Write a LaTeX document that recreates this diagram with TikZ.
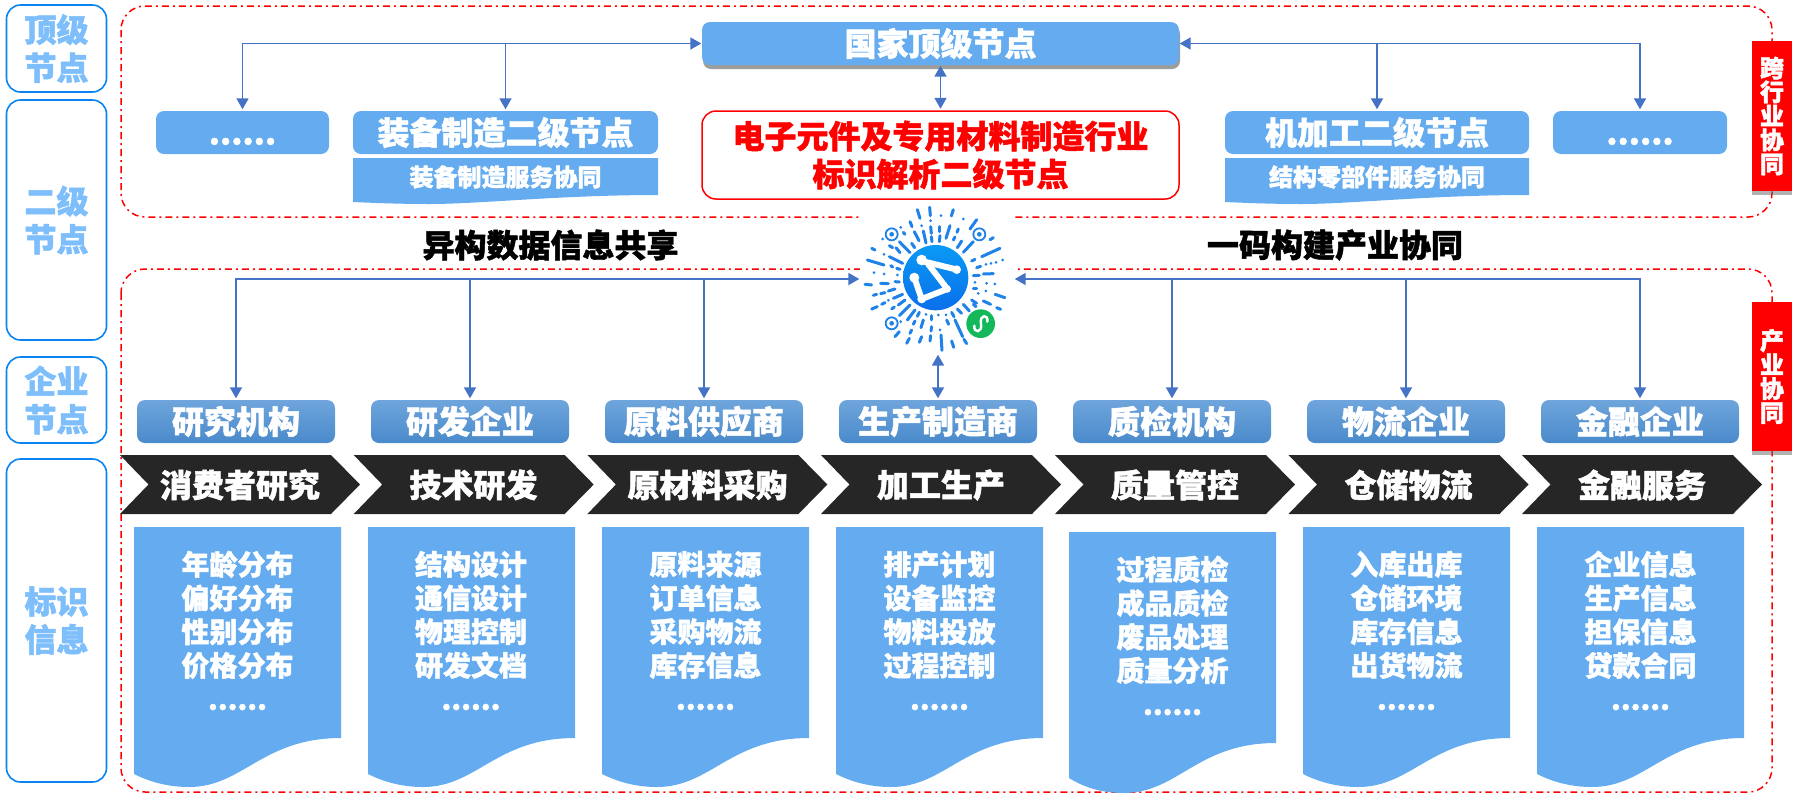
\documentclass[tikz,border=0pt]{standalone}
\usepackage{fontspec}
\setmainfont{Noto Sans CJK SC}[BoldFeatures={FakeBold=1.5}]
\usetikzlibrary{arrows.meta,shadows}
\definecolor{nodeblue}{HTML}{64ACEF}
\definecolor{lvlline}{HTML}{0A84F2}
\definecolor{lvltext}{HTML}{7DBEFB}
\definecolor{linkblue}{HTML}{4472C4}
\definecolor{qrblue}{HTML}{1E82E8}
\definecolor{qrtop}{HTML}{0A9AF5}
\definecolor{qrdown}{HTML}{0A6FEA}
\definecolor{qrgreen}{HTML}{12B85A}
\definecolor{compup}{HTML}{6FA5DC}
\definecolor{compdown}{HTML}{4A8ACB}
\definecolor{chevdark}{HTML}{262626}
\tikzset{
  txta/.style={font=\fontsize{32}{38}\selectfont\bfseries, align=center, inner sep=0pt},
  txtb/.style={font=\fontsize{24}{24}\selectfont\bfseries, align=center, inner sep=0pt},
  txtc/.style={font=\fontsize{28}{33.7}\selectfont\bfseries, align=center, inner sep=0pt, text=white},
  lvlbox/.style={txta, draw=lvlline, line width=1.6pt, rounded corners=14pt, text=lvltext, minimum width=100pt},
  bluebox/.style={txta, fill=nodeblue, text=white, rounded corners=8pt, minimum height=43pt},
  compbox/.style={txta, top color=compup, bottom color=compdown, text=white, rounded corners=8pt, minimum width=198pt, minimum height=43pt},
  tagbox/.style={txtb, fill=red, text=white, minimum width=40pt, drop shadow={shadow xshift=0pt, shadow yshift=-4pt, fill=black!60, opacity=.5}},
  regionline/.style={draw=red, line width=1.5pt, rounded corners=24pt, dash pattern=on 7pt off 4pt on 2pt off 4pt},
  oneway/.style={draw=linkblue, line width=1.8pt, -{Triangle[length=11pt,width=12pt]}, shorten >=1.5pt},
  twoway/.style={draw=linkblue, line width=1.8pt, {Triangle[length=11pt,width=12pt]}-{Triangle[length=11pt,width=12pt]}, shorten >=1.5pt, shorten <=0.5pt},
  ray/.style={draw=qrblue, line width=3pt, line cap=round},
}
\begin{document}
\begin{tikzpicture}[x=1pt, y=-1pt]
  \useasboundingbox (0,0) rectangle (1800,804);

  % left column
  \node[lvlbox, minimum height=87pt] (lvltop) at (56.5,48.5) {顶级\\节点};
  \node[lvlbox, minimum height=240pt] (lvlsec) at (56.5,220) {二级\\节点};
  \node[lvlbox, minimum height=86pt] (lvlent) at (56.5,400) {企业\\节点};
  \node[lvlbox, minimum height=323pt] (lvlinf) at (56.5,620.5) {标识\\信息};

  % dash-dot regions
  \draw[regionline] (121,6) rectangle (1772,217);
  \draw[regionline] (121,269) rectangle (1772,792);

  % top part
  \node[bluebox, minimum width=477pt, drop shadow={shadow xshift=1pt, shadow yshift=-4pt, fill=black!70, opacity=.55}] (guojia) at (940.5,43.5) {国家顶级节点};
  \node[txta, draw=red, line width=1.5pt, rounded corners=14pt, text=red, minimum width=477pt, minimum height=88pt] (hangye) at (940.5,155) {电子元件及专用材料制造行业\\标识解析二级节点};
  \node[bluebox, minimum width=173pt] (dotsl) at (242.5,132.5) {\smash{\raisebox{-12pt}{......}}};
  \node[bluebox, minimum width=305pt] (zbzz) at (505.5,132.5) {装备制造二级节点};
  \node[bluebox, minimum width=304pt] (jjg) at (1377,132.5) {机加工二级节点};
  \node[bluebox, minimum width=174pt] (dotsr) at (1640,132.5) {\smash{\raisebox{-12pt}{......}}};

  \fill[nodeblue] (353,158) -- (658,158) -- (658,195) .. controls (560,195) and (480,204) .. (430,204) .. controls (400,204) and (375,203) .. (353,202) -- cycle;
  \fill[nodeblue] (1225,158) -- (1529,158) -- (1529,195) .. controls (1431,195) and (1352,204) .. (1302,204) .. controls (1272,204) and (1247,203) .. (1225,202) -- cycle;
  \node[txtb, text=white] (zbfw) at (505.5,177) {装备制造服务协同};
  \node[txtb, text=white] (jgfw) at (1377,177) {结构零部件服务协同};

  \node[tagbox, minimum height=150pt] (tagkh) at (1772,116) {跨\\行\\业\\协\\同};
  \node[tagbox, minimum height=149pt] (tagcy) at (1772,376.5) {产\\业\\协\\同};

  \node[txta] (txtyg) at (550.5,245) {异构数据信息共享};
  \node[txta] (txtym) at (1335,245) {一码构建产业协同};

  % code picture
  \node[fill=white, minimum width=154pt, minimum height=150pt, inner sep=0pt] (qr) at (937,279) {};
  \begin{scope}[shift={(860,205)}, x=0.3333pt, y=-0.3333pt]
    \foreach \xa/\ya/\xb/\yb in {172/14/180/40, 209/7/211/32, 280/14/274/33, 150/50/156/65, 212/65/214/85, 239/65/239/80,
      350/44/330/72, 295/72/291/82, 270/62/258/100, 240/92/238/110, 214/95/216/110, 190/78/198/114, 163/80/177/107,
      130/82/135/88, 118/110/150/143, 155/115/164/128, 285/96/280/105, 340/110/310/142, 305/108/292/128,
      88/122/98/128, 35/130/45/135, 108/128/120/143, 88/155/128/175, 22/165/72/180, 92/182/98/186, 110/190/120/193,
      15/238/35/240, 62/235/85/236, 105/230/118/231, 40/271/50/268, 62/266/75/263, 85/258/105/252, 35/312/52/305,
      65/298/75/293, 100/280/128/268, 95/312/103/306, 115/300/135/285,
      400/98/390/104, 420/130/365/155, 345/163/335/168, 350/188/362/184, 340/212/358/211, 370/207/400/206,
      340/252/350/252, 405/268/435/278, 335/285/350/295, 370/288/392/298, 410/308/422/313, 340/298/348/305,
      150/300/118/332, 165/315/142/345, 178/322/172/334, 215/332/215/345, 275/322/282/335, 292/312/305/325,
      310/298/328/318, 165/348/160/358, 190/345/183/368, 215/365/213/378, 260/345/266/358, 285/345/308/395,
      155/375/150/385, 105/395/118/380, 140/415/148/400, 178/412/185/395, 210/408/212/392, 243/390/246/436,
      275/408/281/427, 312/403/320/416}
      \draw[ray] (\xa,\ya) -- (\xb,\yb);
    \foreach \xa/\ya in {243/32, 212/47, 185/62, 310/42, 122/67, 68/102, 72/148, 42/203, 72/207, 112/210, 85/286,
      378/178, 393/175, 408/172, 428/165, 345/232, 380/235, 405/237, 355/265, 378/258,
      198/328, 235/330, 258/330, 122/350, 240/375}
      \fill[qrblue] (\xa,\ya) circle (4.5);
    \foreach \xa/\ya in {95/88, 358/88, 95/355} {
      \draw[qrblue, line width=1.8pt] (\xa,\ya) circle (18);
      \fill[qrblue] (\xa,\ya) circle (7);
    }
    \shade[top color=qrtop, bottom color=qrdown] (227,218) circle (98);
    \draw[white, line width=6pt, line cap=round, line join=round] (185,168) -- (288,193);
    \draw[white, line width=6pt, line cap=round, line join=round] (205,178) -- (262,252) -- (185,282) -- (163,218);
    \fill[white] (185,165) circle (16);
    \fill[white] (290,194) circle (13);
    \fill[white] (163,218) circle (15);
    \fill[white] (185,282) circle (13);
    \fill[white] (262,252) circle (11);
    \fill[qrgreen] (362,356) circle (43);
    \draw[white, line width=2.4pt, line cap=round] (343,362) .. controls (340,385) and (368,385) .. (363,356) .. controls (358,327) and (386,327) .. (382,350);
  \end{scope}

  % company row
  \node[compbox] (yjjg) at (236,421.5) {研究机构};
  \node[compbox] (yfqy) at (470,421.5) {研发企业};
  \node[compbox] (ylgy) at (704,421.5) {原料供应商};
  \node[compbox] (sczz) at (938,421.5) {生产制造商};
  \node[compbox] (zjjg) at (1172,421.5) {质检机构};
  \node[compbox] (wlqy) at (1406,421.5) {物流企业};
  \node[compbox] (jrqy) at (1640,421.5) {金融企业};

  % chevrons
  \fill[chevdark] (120,455) -- (331,455) -- (360,484.5) -- (331,514) -- (120,514) -- (148.5,484.5) -- cycle;
  \fill[chevdark] (353.7,455) -- (564.7,455) -- (593.7,484.5) -- (564.7,514) -- (353.7,514) -- (382.2,484.5) -- cycle;
  \fill[chevdark] (587.4,455) -- (798.4,455) -- (827.4,484.5) -- (798.4,514) -- (587.4,514) -- (615.9,484.5) -- cycle;
  \fill[chevdark] (821,455) -- (1032,455) -- (1061,484.5) -- (1032,514) -- (821,514) -- (849.5,484.5) -- cycle;
  \fill[chevdark] (1055,455) -- (1266,455) -- (1295,484.5) -- (1266,514) -- (1055,514) -- (1083.5,484.5) -- cycle;
  \fill[chevdark] (1288.5,455) -- (1499.5,455) -- (1528.5,484.5) -- (1499.5,514) -- (1288.5,514) -- (1317,484.5) -- cycle;
  \fill[chevdark] (1522,455) -- (1733,455) -- (1762,484.5) -- (1733,514) -- (1522,514) -- (1550.5,484.5) -- cycle;
  \node[txta, text=white] (chxf) at (240,485) {消费者研究};
  \node[txta, text=white] (chjs) at (473.5,485) {技术研发};
  \node[txta, text=white] (chyc) at (707.5,485) {原材料采购};
  \node[txta, text=white] (chjg) at (941,485) {加工生产};
  \node[txta, text=white] (chzl) at (1175,485) {质量管控};
  \node[txta, text=white] (chcc) at (1408.5,485) {仓储物流};
  \node[txta, text=white] (chjr) at (1642,485) {金融服务};

  % info sheets
  \fill[nodeblue] (134,527) -- (341,527) -- (341,738) .. controls (262,738) and (243,787) .. (189,787) .. controls (168,787) and (150,782) .. (134,774) -- cycle;
  \fill[nodeblue] (368,527) -- (575,527) -- (575,738) .. controls (496,738) and (477,787) .. (423,787) .. controls (402,787) and (384,782) .. (368,774) -- cycle;
  \fill[nodeblue] (602,527) -- (809,527) -- (809,738) .. controls (730,738) and (711,787) .. (657,787) .. controls (636,787) and (618,782) .. (602,774) -- cycle;
  \fill[nodeblue] (836,527) -- (1043,527) -- (1043,738) .. controls (964,738) and (945,787) .. (891,787) .. controls (870,787) and (852,782) .. (836,774) -- cycle;
  \fill[nodeblue] (1069,532) -- (1276,532) -- (1276,743) .. controls (1197,743) and (1178,793) .. (1124,793) .. controls (1103,793) and (1085,788) .. (1069,778) -- cycle;
  \fill[nodeblue] (1303,527) -- (1510,527) -- (1510,738) .. controls (1431,738) and (1412,787) .. (1358,787) .. controls (1337,787) and (1319,782) .. (1303,774) -- cycle;
  \fill[nodeblue] (1537,527) -- (1744,527) -- (1744,738) .. controls (1665,738) and (1646,787) .. (1592,787) .. controls (1571,787) and (1553,782) .. (1537,774) -- cycle;
  \node[txtc] (infxf) at (237.5,630.5) {年龄分布\\偏好分布\\性别分布\\价格分布\\......};
  \node[txtc] (infjs) at (471,630.5) {结构设计\\通信设计\\物理控制\\研发文档\\......};
  \node[txtc] (infyc) at (705.5,630.5) {原料来源\\订单信息\\采购物流\\库存信息\\......};
  \node[txtc] (infjg) at (939.5,630.5) {排产计划\\设备监控\\物料投放\\过程控制\\......};
  \node[txtc] (infzl) at (1172.5,635.5) {过程质检\\成品质检\\废品处理\\质量分析\\......};
  \node[txtc] (infcc) at (1406.5,630.5) {入库出库\\仓储环境\\库存信息\\出货物流\\......};
  \node[txtc] (infjr) at (1640.5,630.5) {企业信息\\生产信息\\担保信息\\贷款合同\\......};

  % connectors
  \draw[twoway] (guojia.west) -| (dotsl.north);
  \draw[oneway] (zbzz.north |- guojia.west) -- (zbzz.north);
  \draw[twoway] (guojia.east) -| (dotsr.north);
  \draw[oneway] (jjg.north |- guojia.east) -- (jjg.north);
  \draw[twoway] (guojia.south) -- (hangye.north);
  \draw[twoway] (qr.west) -| (yjjg.north);
  \draw[oneway] (yfqy.north |- qr.west) -- (yfqy.north);
  \draw[oneway] (ylgy.north |- qr.west) -- (ylgy.north);
  \draw[twoway] (sczz.north |- qr.south) -- (sczz.north);
  \draw[twoway] (qr.east) -| (jrqy.north);
  \draw[oneway] (zjjg.north |- qr.east) -- (zjjg.north);
  \draw[oneway] (wlqy.north |- qr.east) -- (wlqy.north);
\end{tikzpicture}
\end{document}
